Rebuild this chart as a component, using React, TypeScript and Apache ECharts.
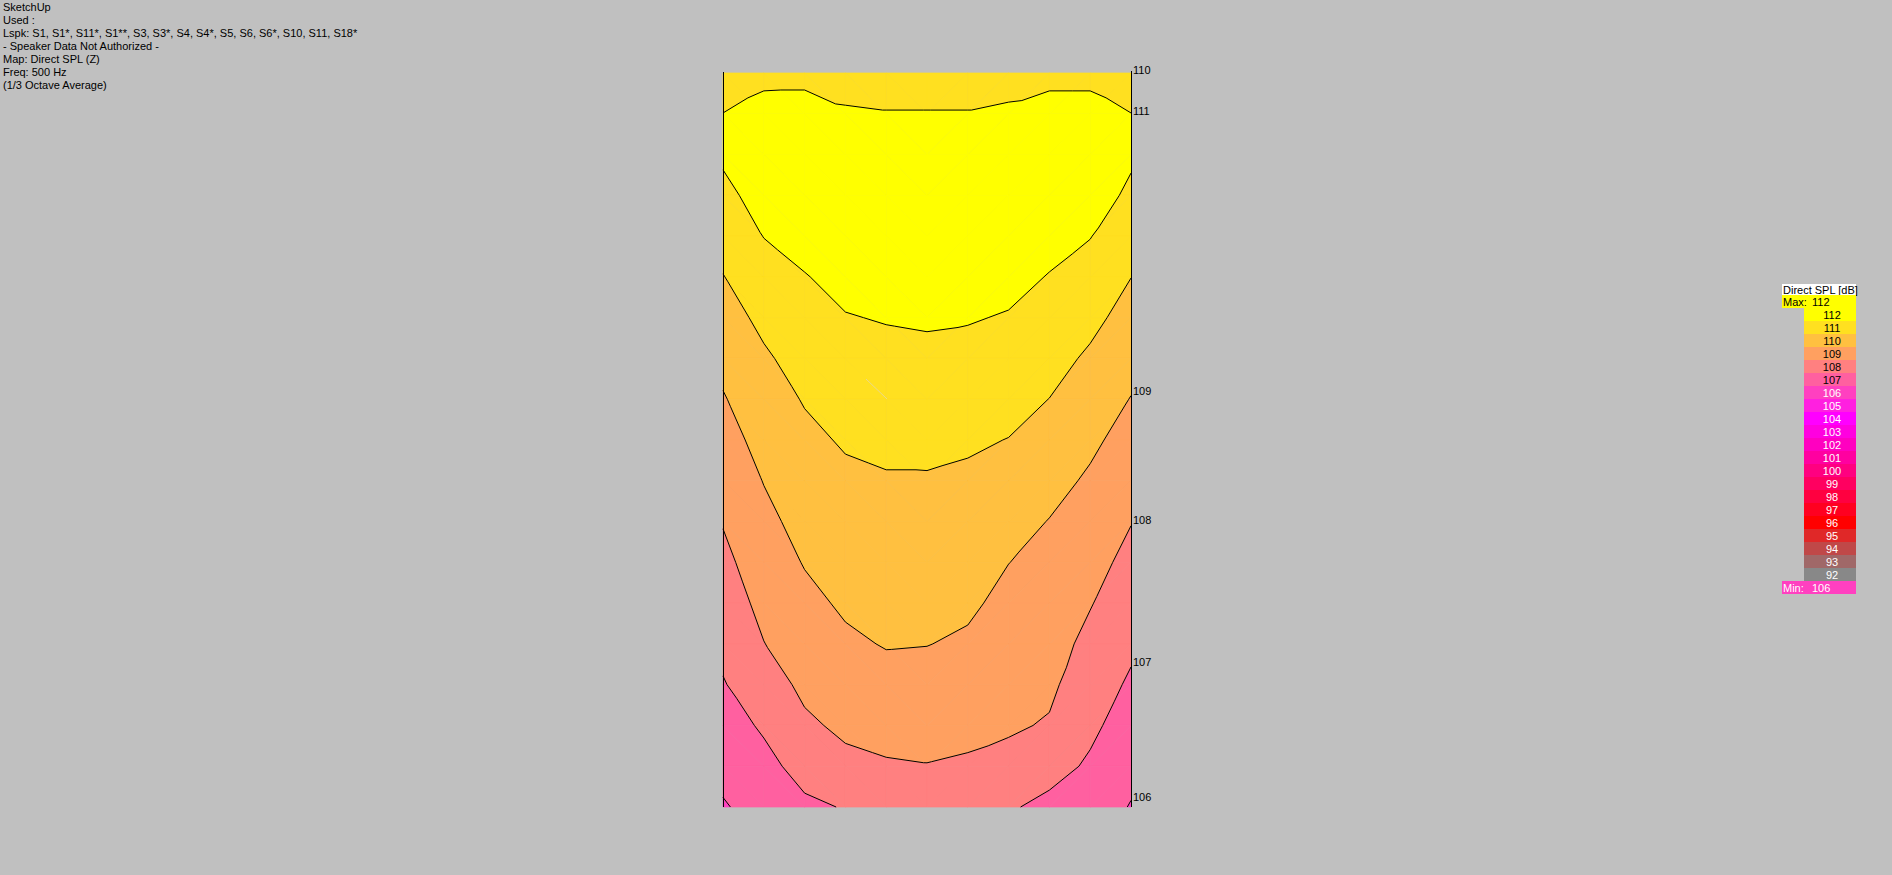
import React, { useEffect, useRef } from "react";
import * as echarts from "echarts";

// ---------- DATA ----------
const infoLines = [
  "SketchUp",
  "Used :",
  "Lspk: S1, S1*, S11*, S1**, S3, S3*, S4, S4*, S5, S6, S6*, S10, S11, S18*",
  "- Speaker Data Not Authorized -",
  "Map: Direct SPL (Z)",
  "Freq: 500 Hz",
  "(1/3 Octave Average)",
];

// SPL [dB] on an 11 x 19 node grid (rows top -> bottom, columns left -> right)
const splRows: number[][] = [
  [110.5, 110.75, 110.75, 110.7, 110.7, 110.7, 110.7, 110.7, 110.75, 110.75, 110.5],
  [111.01, 111.32, 111.35, 111.08, 111.03, 111.03, 111.03, 111.12, 111.32, 111.32, 111.01],
  [111.12, 111.45, 111.6, 111.4, 111.35, 111.35, 111.35, 111.45, 111.6, 111.45, 111.1],
  [110.8, 111.3, 111.55, 111.6, 111.6, 111.6, 111.6, 111.6, 111.55, 111.3, 110.88],
  [110.37, 111.02, 111.3, 111.55, 111.6, 111.65, 111.6, 111.55, 111.29, 111.03, 110.41],
  [109.97, 110.62, 110.96, 111.25, 111.45, 111.5, 111.45, 111.26, 110.96, 110.64, 110.01],
  [109.61, 110.22, 110.66, 110.96, 111.05, 111.1, 111.06, 110.94, 110.64, 110.24, 109.66],
  [109.26, 109.87, 110.36, 110.67, 110.76, 110.81, 110.74, 110.62, 110.32, 109.86, 109.31],
  [108.93, 109.59, 110.06, 110.38, 110.48, 110.51, 110.43, 110.3, 109.99, 109.52, 108.97],
  [108.63, 109.31, 109.8, 110.09, 110.19, 110.21, 110.12, 109.98, 109.65, 109.18, 108.65],
  [108.34, 109.03, 109.55, 109.83, 109.93, 109.93, 109.85, 109.65, 109.3, 108.87, 108.34],
  [108.05, 108.77, 109.3, 109.6, 109.71, 109.7, 109.62, 109.32, 108.97, 108.6, 108.03],
  [107.77, 108.51, 109.05, 109.36, 109.49, 109.48, 109.38, 109.01, 108.77, 108.32, 107.74],
  [107.5, 108.25, 108.77, 109.13, 109.27, 109.25, 109.14, 108.78, 108.57, 108.05, 107.45],
  [107.22, 107.98, 108.48, 108.85, 109.05, 109.02, 108.88, 108.56, 108.37, 107.76, 107.17],
  [106.94, 107.55, 108.2, 108.51, 108.7, 108.68, 108.56, 108.34, 108.17, 107.47, 106.87],
  [106.6, 107.12, 107.84, 108.18, 108.32, 108.33, 108.24, 108.12, 107.92, 107.19, 106.57],
  [106.26, 106.73, 107.33, 107.77, 107.91, 107.97, 107.88, 107.71, 107.34, 106.87, 106.26],
  [105.92, 106.36, 106.83, 107.05, 107.4, 107.46, 107.38, 107.1, 106.76, 106.5, 105.95],
];

const contourLevels = [106, 107, 108, 109, 110, 111];

// legend scale (label = upper bound of band)
const legendValues = [112, 111, 110, 109, 108, 107, 106, 105, 104, 103, 102, 101, 100, 99, 98, 97, 96, 95, 94, 93, 92];
const legendColors = [
  "#FFFF00", "#FFE020", "#FFC040", "#FFA060", "#FF8080", "#FF60A0", "#FF40C0",
  "#FF20E0", "#FF00FF", "#FF00E0", "#FF00C0", "#FF00A0", "#FF0080", "#FF0060",
  "#FF0040", "#FF0020", "#FF0000", "#E02828", "#C04848", "#A06868", "#888888",
];
const legendTitle = "Direct SPL [dB]";
const maxValue = 112;
const minValue = 106;

const edgeLabels = ["110", "111", "109", "108", "107", "106"];
const edgeLabelY = [70, 111, 391, 520, 662, 797];

// ---------- HELPERS ----------
type P = [number, number, number];

function clipPoly(poly: P[], L: number, keepAbove: boolean): P[] {
  const out: P[] = [];
  const n = poly.length;
  for (let k = 0; k < n; k++) {
    const a = poly[k];
    const b = poly[(k + 1) % n];
    const ina = keepAbove ? a[2] >= L : a[2] <= L;
    const inb = keepAbove ? b[2] >= L : b[2] <= L;
    if (ina) out.push(a);
    if (ina !== inb) {
      const t = (L - a[2]) / (b[2] - a[2]);
      out.push([a[0] + t * (b[0] - a[0]), a[1] + t * (b[1] - a[1]), L]);
    }
  }
  return out;
}

function bandColor(upper: number): string {
  const idx = legendValues.indexOf(upper);
  return idx >= 0 ? legendColors[idx] : "#FF40C0";
}

function cellTriangles(api: any): P[][] {
  const j = api.value(0);
  const i = api.value(1);
  const c00 = api.coord([j, i]);
  const c10 = api.coord([j + 1, i]);
  const c01 = api.coord([j, i + 1]);
  const c11 = api.coord([j + 1, i + 1]);
  const a: P = [c00[0], c00[1], splRows[i][j]];
  const b: P = [c10[0], c10[1], splRows[i][j + 1]];
  const c: P = [c01[0], c01[1], splRows[i + 1][j]];
  const d: P = [c11[0], c11[1], splRows[i + 1][j + 1]];
  if (j < 5) return [[a, b, d], [a, d, c]];
  return [[a, b, c], [b, d, c]];
}

export default function App() {
  const ref = useRef<HTMLDivElement>(null);

  useEffect(() => {
    if (!ref.current) return;
    const chart = echarts.init(ref.current, null, { renderer: "svg" });

    const nCols = splRows[0].length;
    const nRows = splRows.length;
    const cells: number[][] = [];
    for (let i = 0; i < nRows - 1; i++) for (let j = 0; j < nCols - 1; j++) cells.push([j, i]);

    const bandUppers = [106, 107, 108, 109, 110, 111, 112];

    const renderFill = (params: any, api: any) => {
      const tris = cellTriangles(api);
      const children: any[] = [];
      tris.forEach((tri) => {
        bandUppers.forEach((up) => {
          let poly = tri;
          const lo = up - 1;
          if (up !== bandUppers[0]) poly = clipPoly(poly, lo, true);
          if (poly.length >= 3 && up !== bandUppers[bandUppers.length - 1]) poly = clipPoly(poly, up, false);
          if (poly.length >= 3) {
            const col = bandColor(up);
            children.push({
              type: "polygon",
              shape: { points: poly.map((p) => [p[0], p[1]]) },
              style: { fill: col, stroke: col, lineWidth: 0.7 },
              silent: true,
            });
          }
        });
      });
      return { type: "group", children };
    };

    const renderLines = (params: any, api: any) => {
      const tris = cellTriangles(api);
      const children: any[] = [];
      tris.forEach((tri) => {
        contourLevels.forEach((L) => {
          const pts: number[][] = [];
          for (let k = 0; k < 3; k++) {
            const a = tri[k];
            const b = tri[(k + 1) % 3];
            if ((a[2] - L) * (b[2] - L) < 0) {
              const t = (L - a[2]) / (b[2] - a[2]);
              pts.push([a[0] + t * (b[0] - a[0]), a[1] + t * (b[1] - a[1])]);
            }
          }
          if (pts.length === 2) {
            children.push({
              type: "line",
              shape: { x1: pts[0][0], y1: pts[0][1], x2: pts[1][0], y2: pts[1][1] },
              style: { stroke: "#000000", lineWidth: 1 },
              silent: true,
            });
          }
        });
      });
      return { type: "group", children };
    };

    const font = "Liberation Sans, Arial, sans-serif";
    const graphics: any[] = [];

    infoLines.forEach((t, k) => {
      graphics.push({
        type: "text", left: 3, top: 1 + 13 * k,
        style: { text: t, fill: "#000", font: `11px ${font}` },
      });
    });

    // plot borders
    graphics.push({ type: "line", shape: { x1: 723.5, y1: 72, x2: 723.5, y2: 807 }, style: { stroke: "#000", lineWidth: 1 }, z: 10 });
    graphics.push({ type: "line", shape: { x1: 1131.5, y1: 71, x2: 1131.5, y2: 807 }, style: { stroke: "#000", lineWidth: 1 }, z: 10 });
    // faint artifact stroke
    graphics.push({ type: "line", shape: { x1: 866, y1: 379, x2: 887, y2: 399 }, style: { stroke: "#EBDA8C", lineWidth: 1 }, z: 10 });

    edgeLabels.forEach((t, k) => {
      graphics.push({
        type: "text", x: 1133, y: edgeLabelY[k],
        style: { text: t, fill: "#000", font: `11px ${font}`, verticalAlign: "middle", align: "left" },
        z: 10,
      });
    });

    // legend
    const lx0 = 1782, lx1 = 1856, barX = 1804, rowH = 13, barTop = 308;
    graphics.push({ type: "rect", shape: { x: lx0, y: 284, width: lx1 - lx0, height: 11 }, style: { fill: "#FFFFFF" } });
    graphics.push({ type: "text", x: lx0 + 1, y: 289.5, style: { text: legendTitle, fill: "#000", font: `11px ${font}`, verticalAlign: "middle" } });
    graphics.push({ type: "rect", shape: { x: lx0, y: 295, width: lx1 - lx0, height: 13 }, style: { fill: bandColor(maxValue) } });
    graphics.push({ type: "text", x: lx0 + 1, y: 302, style: { text: "Max:", fill: "#000", font: `11px ${font}`, verticalAlign: "middle" } });
    graphics.push({ type: "text", x: 1812, y: 302, style: { text: String(maxValue), fill: "#000", font: `11px ${font}`, verticalAlign: "middle" } });
    legendValues.forEach((v, k) => {
      const y = barTop + rowH * k;
      graphics.push({ type: "rect", shape: { x: barX, y, width: lx1 - barX, height: rowH }, style: { fill: legendColors[k] } });
      graphics.push({
        type: "text", x: 1832, y: y + rowH / 2,
        style: { text: String(v), fill: v >= 107 ? "#000" : "#FFF", font: `11px ${font}`, align: "center", verticalAlign: "middle" },
      });
    });
    const minY = barTop + rowH * legendValues.length;
    graphics.push({ type: "rect", shape: { x: lx0, y: minY, width: lx1 - lx0, height: 13 }, style: { fill: bandColor(minValue) } });
    graphics.push({ type: "text", x: lx0 + 1, y: minY + 6.5, style: { text: "Min:", fill: "#FFF", font: `11px ${font}`, verticalAlign: "middle" } });
    graphics.push({ type: "text", x: 1812, y: minY + 6.5, style: { text: String(minValue), fill: "#FFF", font: `11px ${font}`, verticalAlign: "middle" } });

    chart.setOption({
      animation: false,
      backgroundColor: "#C0C0C0",
      grid: { left: 723, top: 73, width: 408, height: 734, show: false },
      xAxis: { type: "value", min: 0, max: nCols - 1, show: false },
      yAxis: { type: "value", min: 0, max: nRows - 1, inverse: true, show: false },
      series: [
        { type: "custom", data: cells, renderItem: renderFill, clip: false, silent: true, z: 1 },
        { type: "custom", data: cells, renderItem: renderLines, clip: false, silent: true, z: 2 },
      ],
      graphic: graphics,
    });

    return () => chart.dispose();
  }, []);

  return (
    <div
      ref={ref}
      style={{ position: "fixed", left: 0, top: 0, width: 1892, height: 875, background: "#C0C0C0" }}
    />
  );
}
